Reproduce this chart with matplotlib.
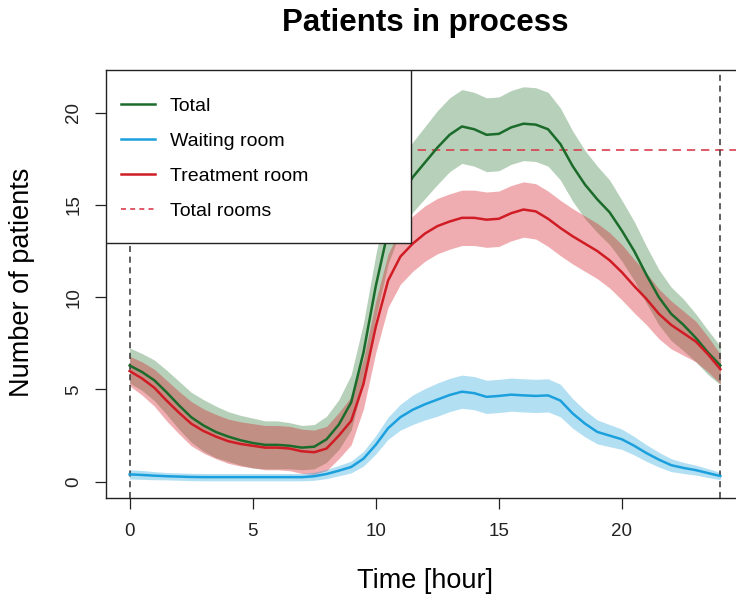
import numpy as np
import matplotlib.pyplot as plt
from matplotlib.patches import Rectangle
from matplotlib.lines import Line2D

# values (hour of day, mean and half-width of band)
hours = [0, 0.5, 1, 1.5, 2, 2.5, 3, 3.5, 4, 4.5, 5, 5.5, 6, 6.5, 7, 7.5, 8, 8.5,
         9, 9.5, 10, 10.5, 11, 11.5, 12, 12.5, 13, 13.5, 14, 14.5, 15, 15.5,
         16, 16.5, 17, 17.5, 18, 18.5, 19, 19.5, 20, 20.5, 21, 21.5, 22, 22.5,
         23, 23.5, 24]

total = [6.3, 5.95, 5.5, 4.85, 4.15, 3.5, 3.05, 2.7, 2.45, 2.25, 2.1, 2.0, 2.0,
         1.95, 1.85, 1.9, 2.3, 3.1, 4.3, 7.0, 10.6, 13.6, 15.4, 16.5, 17.3,
         18.1, 18.8, 19.25, 19.1, 18.8, 18.85, 19.2, 19.4, 19.35, 19.1, 18.3,
         17.1, 16.1, 15.3, 14.6, 13.6, 12.5, 11.2, 10.0, 9.1, 8.5, 7.8, 7.0, 6.3]
total_sd = [0.95, 1.0, 1.1, 1.2, 1.3, 1.35, 1.4, 1.4, 1.35, 1.35, 1.35, 1.3, 1.3,
            1.25, 1.2, 1.2, 1.25, 1.35, 1.5, 1.6, 1.7, 1.8, 1.85, 1.9, 1.95,
            2.0, 2.0, 2.0, 2.0, 2.0, 2.0, 2.0, 2.0, 2.0, 2.0, 1.95, 1.9, 1.85,
            1.8, 1.75, 1.65, 1.6, 1.55, 1.5, 1.45, 1.4, 1.3, 1.2, 1.05]

waiting = [0.4, 0.37, 0.33, 0.3, 0.28, 0.26, 0.25, 0.25, 0.25, 0.25, 0.25, 0.25,
           0.25, 0.25, 0.25, 0.3, 0.42, 0.6, 0.8, 1.25, 2.0, 2.9, 3.5, 3.9, 4.2,
           4.45, 4.7, 4.88, 4.8, 4.6, 4.65, 4.72, 4.68, 4.65, 4.68, 4.4, 3.7,
           3.15, 2.7, 2.5, 2.3, 1.95, 1.55, 1.2, 0.9, 0.75, 0.63, 0.47, 0.31]
waiting_sd = [0.25, 0.24, 0.22, 0.2, 0.2, 0.2, 0.2, 0.2, 0.2, 0.2, 0.2, 0.2, 0.2,
              0.2, 0.2, 0.22, 0.25, 0.28, 0.32, 0.4, 0.5, 0.6, 0.7, 0.8, 0.85,
              0.9, 0.9, 0.9, 0.9, 0.9, 0.9, 0.9, 0.9, 0.9, 0.9, 0.88, 0.8, 0.72,
              0.65, 0.6, 0.55, 0.5, 0.45, 0.4, 0.35, 0.3, 0.27, 0.24, 0.2]

treatment = [6.0, 5.6, 5.1, 4.4, 3.75, 3.15, 2.75, 2.45, 2.2, 2.05, 1.95, 1.85,
             1.85, 1.8, 1.65, 1.6, 1.8, 2.5, 3.3, 5.3, 8.4, 10.9, 12.2, 12.9,
             13.45, 13.85, 14.1, 14.3, 14.3, 14.2, 14.25, 14.55, 14.75, 14.65,
             14.25, 13.75, 13.3, 12.9, 12.5, 12.0, 11.35, 10.6, 9.9, 9.1, 8.5,
             8.05, 7.6, 6.9, 6.1]
treatment_sd = [0.8, 0.9, 1.0, 1.1, 1.15, 1.2, 1.2, 1.2, 1.2, 1.2, 1.2, 1.2, 1.2,
                1.2, 1.2, 1.2, 1.2, 1.25, 1.3, 1.35, 1.4, 1.45, 1.5, 1.5, 1.5,
                1.5, 1.5, 1.5, 1.5, 1.5, 1.5, 1.5, 1.5, 1.5, 1.5, 1.5, 1.5, 1.5,
                1.5, 1.5, 1.5, 1.45, 1.4, 1.35, 1.3, 1.2, 1.1, 0.95, 0.8]

total_rooms = 18
day_start, day_end = 0, 24

labels = ['Total', 'Waiting room', 'Treatment room', 'Total rooms']
c_total = '#1b6b2b'
c_wait = '#1ba0dd'
c_treat = '#d01c24'
c_rooms = '#d8404e'

plt.rcParams['font.family'] = ['Liberation Sans', 'DejaVu Sans']

fig = plt.figure(figsize=(7.36, 6.0), dpi=100)
ax = fig.add_axes([106/736, 1 - 498/600, 638/736, 428/600])

x = np.array(hours)
tot, tot_sd = np.array(total), np.array(total_sd)
wai, wai_sd = np.array(waiting), np.array(waiting_sd)
tre, tre_sd = np.array(treatment), np.array(treatment_sd)

# confidence bands
ax.fill_between(x, tot - tot_sd, tot + tot_sd, color='#1e6e28', alpha=0.32, lw=0, zorder=1)
ax.fill_between(x, tre - tre_sd, tre + tre_sd, color='#d81e28', alpha=0.36, lw=0, zorder=1.5)
ax.fill_between(x, wai - wai_sd, wai + wai_sd, color='#1ba0dd', alpha=0.33, lw=0, zorder=1.7)

ax.plot(x, tot, color=c_total, lw=1.8, zorder=3)
ax.plot(x, wai, color=c_wait, lw=1.8, zorder=3)
ax.plot(x, tre, color=c_treat, lw=1.8, zorder=3)

ax.axhline(total_rooms, color=c_rooms, lw=1.2, ls=(0, (5, 3.5)), zorder=2.5)
for v in (day_start, day_end):
    ax.axvline(v, color='#333333', lw=1.1, ls=(0, (4, 3)), zorder=2.5)

ax.set_xlim(-0.96, 24.96)
ax.set_ylim(-0.88, 22.31)
ax.set_xticks([0, 5, 10, 15, 20])
ax.set_yticks([0, 5, 10, 15, 20])
ax.set_yticklabels(['0', '5', '10', '15', '20'], rotation=90, va='center')
ax.tick_params(direction='out', length=8, width=0.9, labelsize=13.5, colors='#222222')
ax.tick_params(axis='x', pad=10)
ax.tick_params(axis='y', pad=9)
for s in ax.spines.values():
    s.set_linewidth(1.0)
    s.set_color('#222222')

# legend box (R style, top-left, opaque)
ax.add_patch(Rectangle((0, 1 - 173/428), 305/638, 173/428, transform=ax.transAxes,
                       facecolor='white', edgecolor='#222222', lw=1.0, zorder=5))
handles = [Line2D([], [], color=c_total, lw=1.8),
           Line2D([], [], color=c_wait, lw=1.8),
           Line2D([], [], color=c_treat, lw=1.8),
           Line2D([], [], color=c_rooms, lw=1.2, ls=(0, (3, 2.5)))]
leg = ax.legend(handles, labels, loc='upper left', bbox_to_anchor=(15/638, 1 - 27/428),
                frameon=False, fontsize=14, handlelength=1.75, handletextpad=0.75,
                labelspacing=0.9, borderpad=0, borderaxespad=0)
leg.set_zorder(6)

fig.text(425/736, 1 - 22.5/600, 'Patients in process', ha='center', va='center',
         fontsize=22.5, fontweight='bold')
fig.text(425/736, 1 - 581/600, 'Time [hour]', ha='center', va='center', fontsize=19.5)
fig.text(22.5/736, 1 - 282.5/600, 'Number of patients', ha='center', va='center',
         rotation=90, fontsize=19.5)

fig.savefig('out.png', dpi=100)
